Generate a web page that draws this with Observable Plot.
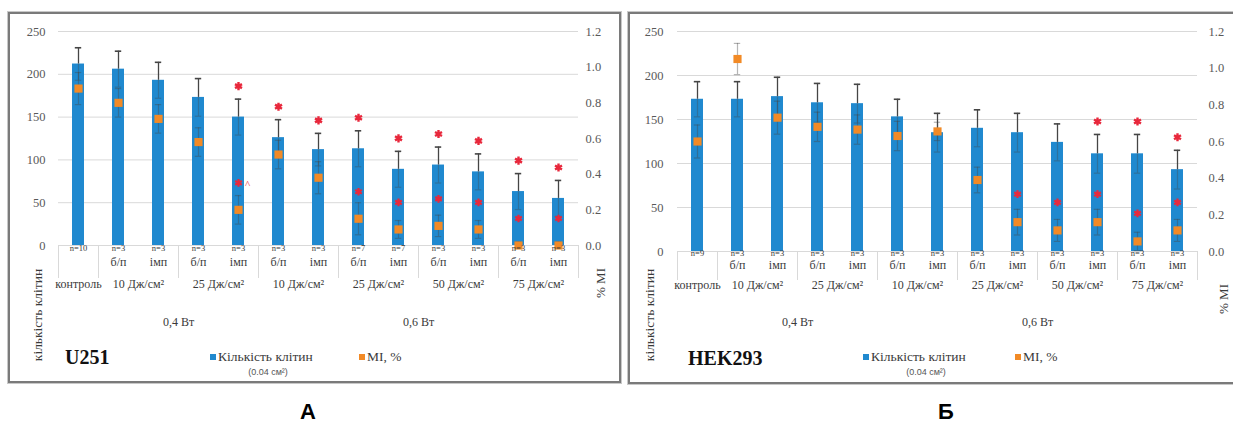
<!DOCTYPE html>
<html><head><meta charset="utf-8">
<script src="https://cdn.jsdelivr.net/npm/d3@7"></script>
<script src="https://cdn.jsdelivr.net/npm/@observablehq/plot@0.6"></script>
<style>
html,body{margin:0;padding:0;background:#fff;}
body{width:1233px;height:424px;overflow:hidden;position:relative;font-family:"Liberation Serif",Tinos,"Times New Roman","DejaVu Serif",serif;color:#404040;}
.svgwrap{position:absolute;top:0;}
.svgwrap svg text{font-family:"Liberation Serif",Tinos,"Times New Roman","DejaVu Serif",serif;}
.panel{position:absolute;border:2px solid #7a7a7a;box-sizing:border-box;box-shadow:0 0 0 1px #c8c8c8;}
.lbl{position:absolute;white-space:nowrap;line-height:1;}
.sq{position:absolute;width:6px;height:6px;transform:translate(-50%,-50%);}
</style></head><body>
<script>
// ---------- data ----------
const modes = ["", "б/п","імп","б/п","імп","б/п","імп","б/п","імп","б/п","імп","б/п","імп"];
const doseLabels = ["контроль","10 Дж/см²","25 Дж/см²","10 Дж/см²","25 Дж/см²","50 Дж/см²","75 Дж/см²"];
const doseFrom = [0,1,3,5,7,9,11];
const doseTo   = [1,3,5,7,9,11,13];
const powerLabels = ["0,4 Вт","0,6 Вт"];
const powerFrom = [1,5];
const powerTo   = [5,13];
const separators = [0,1,3,5,7,9,11,13];
const countTicks = [0,50,100,150,200,250];
const miTicks = [0,0.2,0.4,0.6,0.8,1.0,1.2];

// U251 (panel A)
const u251N        = ["n=10","n=3","n=3","n=3","n=3","n=3","n=3","n=7","n=7","n=3","n=3","n=3","n=3"];
const u251Count    = [212,206,193,173,150,126,112,113,89,94,86,63,55];
const u251CountSd  = [19,21,21,22,21,21,19,21,21,21,21,21,21];
const u251Mi       = [0.88,0.80,0.71,0.58,0.20,0.51,0.38,0.15,0.09,0.11,0.09,0.00,0.00];
const u251MiSd     = [0.09,0.08,0.08,0.08,0.08,0.08,0.09,0.09,0.05,0.06,0.05,0.02,0.02];
const u251CountSig = ["","","","","*","*","*","*","*","*","*","*","*"];
const u251MiSig    = ["","","","","*^","","","*","*","*","*","*","*"];

// HEK293 (panel Б)
const hekN        = ["n=9","n=3","n=3","n=3","n=3","n=3","n=3","n=3","n=3","n=3","n=3","n=3","n=3"];
const hekCount    = [173,173,176,169,168,153,135,140,135,124,111,111,93];
const hekCountSd  = [20,20,22,22,22,20,22,21,22,21,22,22,22];
const hekMi       = [0.60,1.05,0.73,0.68,0.665,0.63,0.655,0.39,0.16,0.115,0.16,0.055,0.115];
const hekMiSd     = [0.09,0.085,0.09,0.08,0.08,0.08,0.05,0.07,0.07,0.06,0.07,0.05,0.06];
const hekCountSig = ["","","","","","","","","","","*","*","*"];
const hekMiSig    = ["","","","","","","","","*","*","*","*","*"];

// ---------- drawing ----------
const SERIF = '"Liberation Serif", Tinos, "Times New Roman", "DejaVu Serif", serif';
const BLUE = "#2089cf", ORANGE = "#f28a26", RED = "#e8283c", ERR = "#454545", GRID = "#d9d9d9";
const k = 250 / 1.2; // MI -> count-axis units

function panel(cfg) {
  const rows = cfg.count.map((c, i) => ({
    i, x: i + 0.5, count: c, sd: cfg.countSd[i],
    mi: cfg.mi[i] * k, miSd: cfg.miSd[i] * k,
    n: cfg.n[i], mode: modes[i], cs: cfg.countSig[i], ms: cfg.miSig[i]
  }));
  const doses = doseLabels.map((t, j) => ({t, x: (doseFrom[j] + doseTo[j]) / 2}));
  const powers = powerLabels.map((t, j) => ({t, x: (powerFrom[j] + powerTo[j]) / 2}));
  const cap = 0.08;
  const txt = {fontFamily: SERIF, fill: "#3a3a3a"};
  return Plot.plot({
    width: cfg.width, height: cfg.height,
    marginLeft: cfg.ml, marginRight: cfg.mr, marginTop: cfg.mt, marginBottom: cfg.mb,
    style: {fontFamily: SERIF, fontSize: "12.5px", color: "#595959", background: "transparent", overflow: "visible"},
    x: {domain: [0, 13], axis: null},
    y: {domain: [0, 250], axis: null},
    marks: [
      Plot.gridY({ticks: countTicks, stroke: GRID, strokeOpacity: 1}),
      Plot.rectY(rows, {x1: "i", x2: d => d.i + 1, y1: 0, y2: "count", insetLeft: 14, insetRight: 14, fill: BLUE}),
      // count error bars
      Plot.ruleX(rows, {x: "x", y1: d => d.count, y2: d => d.count + d.sd, stroke: ERR, strokeWidth: 1.3}),
      Plot.ruleX(rows, {x: "x", y1: d => d.count - d.sd, y2: d => d.count, stroke: ERR, strokeWidth: 1.2, strokeOpacity: 0.35}),
      Plot.ruleY(rows, {y: d => d.count + d.sd, x1: d => d.x - cap, x2: d => d.x + cap, stroke: ERR, strokeWidth: 1.6}),
      Plot.ruleY(rows, {y: d => d.count - d.sd, x1: d => d.x - cap, x2: d => d.x + cap, stroke: ERR, strokeWidth: 1.2, strokeOpacity: 0.35}),
      // MI error bars
      Plot.ruleX(rows, {x: "x", y1: d => Math.max(0, d.mi - d.miSd), y2: d => d.mi + d.miSd, stroke: ERR, strokeWidth: 1.2, strokeOpacity: 0.4}),
      Plot.ruleY(rows, {y: d => d.mi + d.miSd, x1: d => d.x - cap, x2: d => d.x + cap, stroke: ERR, strokeWidth: 1.2, strokeOpacity: 0.4}),
      Plot.ruleY(rows.filter(d => d.mi - d.miSd > 0), {y: d => d.mi - d.miSd, x1: d => d.x - cap, x2: d => d.x + cap, stroke: ERR, strokeWidth: 1.2, strokeOpacity: 0.4}),
      // MI markers
      Plot.dot(rows, {x: "x", y: "mi", symbol: "square", r: 4.6, fill: ORANGE}),
      // MI significance
      Plot.dot(rows.filter(d => d.ms.includes("*")), {x: "x", y: "mi", dy: -cfg.miStarDy, symbol: "asterisk", r: 3.6, stroke: RED, strokeWidth: 2.2}),
      Plot.text(rows.filter(d => d.ms.includes("^")), {x: "x", y: "mi", dy: -cfg.miStarDy + 2, dx: 9, text: () => "^", fill: RED, fontSize: 11, fontFamily: "Liberation Sans"}),
      // count significance
      Plot.dot(rows.filter(d => d.cs === "*"), {x: "x", y: d => d.count + d.sd, dy: -13, symbol: "asterisk", r: 3.8, stroke: RED, strokeWidth: 2.4}),
      // axes
      Plot.axisY({anchor: "left", ticks: countTicks, tickSize: 0, tickPadding: cfg.lp, label: null, fontSize: 12.5, fontFamily: SERIF}),
      Plot.axisY({anchor: "right", ticks: miTicks.map(v => v * k), tickFormat: d => (d / k).toFixed(1), tickSize: 0, tickPadding: cfg.rp, label: null, fontSize: 12.5, fontFamily: SERIF}),
      // multi-level category labels
      Plot.ruleX(separators, {x: d => d, y1: 0, y2: 0, insetBottom: -cfg.sepLen, stroke: GRID}),
      Plot.text(rows, {x: "x", text: "n", frameAnchor: "bottom", dy: cfg.rowDy[0], fontSize: 8.5, ...txt}),
      Plot.text(rows, {x: "x", text: "mode", frameAnchor: "bottom", dy: cfg.rowDy[1], fontSize: 12, ...txt}),
      Plot.text(doses, {x: "x", text: "t", frameAnchor: "bottom", dy: cfg.rowDy[2], fontSize: 12, ...txt}),
      Plot.text(powers, {x: "x", text: "t", frameAnchor: "bottom", dy: cfg.rowDy[3], fontSize: 12, ...txt})
    ]
  });
}

function place(node, left) {
  const w = document.createElement("div");
  w.className = "svgwrap";
  w.style.left = left + "px";
  w.appendChild(node);
  document.body.appendChild(w);
}
function label(text, x, y, css, anchor) {
  const d = document.createElement("div");
  d.className = "lbl";
  d.textContent = text;
  Object.assign(d.style, css);
  d.style.left = x + "px"; d.style.top = y + "px";
  d.style.transform = anchor === "left" ? "translate(0,-50%)" : (anchor === "rot" ? "translate(-50%,-50%) rotate(-90deg)" : "translate(-50%,-50%)");
  document.body.appendChild(d);
}
function square(x, y, color) {
  const d = document.createElement("div");
  d.className = "sq"; d.style.left = x + "px"; d.style.top = y + "px"; d.style.background = color;
  document.body.appendChild(d);
}
function border(l, t, w, h) {
  const d = document.createElement("div");
  d.className = "panel";
  Object.assign(d.style, {left: l + "px", top: t + "px", width: w + "px", height: h + "px"});
  document.body.appendChild(d);
}

place(panel({count: u251Count, countSd: u251CountSd, mi: u251Mi, miSd: u251MiSd, n: u251N,
  countSig: u251CountSig, miSig: u251MiSig, width: 621, height: 384, ml: 58, mr: 43, mt: 31, mb: 139,
  lp: 13, rp: 7, rowDy: [5, 20, 42, 80], sepLen: 33, miStarDy: 27}), 0);
place(panel({count: hekCount, countSd: hekCountSd, mi: hekMi, miSd: hekMiSd, n: hekN,
  countSig: hekCountSig, miSig: hekMiSig, width: 609, height: 384, ml: 53, mr: 36, mt: 31, mb: 133,
  lp: 14, rp: 11, rowDy: [4, 17, 37, 74], sepLen: 29, miStarDy: 28}), 624);

border(8, 12, 613, 371);
border(628, 12, 620, 372);

const serif = {fontFamily: SERIF, color: "#3a3a3a"};
// panel A texts
label("кількість клітин", 38, 315, {...serif, fontSize: "13.5px"}, "rot");
label("% МІ", 600, 283, {...serif, fontSize: "13px"}, "rot");
label("U251", 65, 357, {fontFamily: SERIF, fontWeight: "bold", fontSize: "20px", color: "#111"}, "left");
square(213, 357, BLUE);
label("Кількість клітин", 218, 357, {...serif, fontSize: "13.5px"}, "left");
label("(0.04 см²)", 268, 372, {fontFamily: "Liberation Sans", fontSize: "9px", color: "#555"});
square(362, 357, ORANGE);
label("МІ, %", 367, 357, {...serif, fontSize: "13.5px"}, "left");
// panel Б texts
label("кількість клітин", 650, 315, {...serif, fontSize: "13.5px"}, "rot");
label("% МІ", 1223, 299, {...serif, fontSize: "13px"}, "rot");
label("HEK293", 688, 358, {fontFamily: SERIF, fontWeight: "bold", fontSize: "20px", color: "#111"}, "left");
square(866, 357, BLUE);
label("Кількість клітин", 871, 357, {...serif, fontSize: "13.5px"}, "left");
label("(0.04 см²)", 926, 372, {fontFamily: "Liberation Sans", fontSize: "9px", color: "#555"});
square(1018, 357, ORANGE);
label("МІ, %", 1023, 357, {...serif, fontSize: "13.5px"}, "left");
// panel letters
label("А", 308, 412, {fontFamily: "Liberation Sans", fontWeight: "bold", fontSize: "22px", color: "#000"});
label("Б", 946, 412, {fontFamily: "Liberation Sans", fontWeight: "bold", fontSize: "22px", color: "#000"});
</script>
</body></html>
